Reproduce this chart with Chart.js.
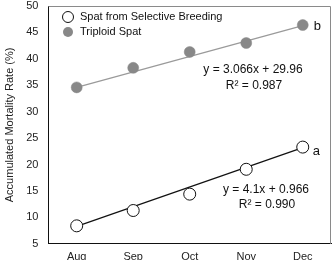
<!DOCTYPE html>
<html><head><meta charset="utf-8">
<script src="https://cdn.jsdelivr.net/npm/chart.js@4/dist/chart.umd.min.js"></script>
<style>html,body{margin:0;padding:0;background:#fff;overflow:hidden;}#wrap{width:335px;height:271px;}</style>
</head><body><div id="wrap"><canvas id="c" width="335" height="271"></canvas></div>
<script>
const categories = ["Aug","Sep","Oct","Nov","Dec"];
const selectiveValues = [8.4, 11.3, 14.4, 19.1, 23.3];
const triploidValues = [34.6, 38.3, 41.3, 43.0, 46.4];
const selectiveTrend = [8.3, null, null, null, 23.2];
const triploidTrend = [34.6, null, null, null, 46.3];
const seriesNames = ["Spat from Selective Breeding","Triploid Spat"];
const eqSelective = ["y = 4.1x + 0.966","R\u00B2 = 0.990"];
const eqTriploid = ["y = 3.066x + 29.96","R\u00B2 = 0.987"];
const yTitle = "Accumulated Mortality Rate (%)";

const FONT = "'Liberation Sans', Arial, sans-serif";

const overlay = {
  id:'overlay',
  afterDraw(chart){
    const {ctx, chartArea:a, scales:{x,y}} = chart;
    ctx.save();
    ctx.strokeStyle = '#8a8a8a'; ctx.lineWidth = 1;
    ctx.beginPath();
    ctx.moveTo(a.left, a.top+0.5); ctx.lineTo(a.right-0.5, a.top+0.5); ctx.lineTo(a.right-0.5, a.bottom);
    ctx.stroke();
    ctx.font = "11px " + FONT; ctx.textBaseline = 'middle'; ctx.textAlign='left';
    ctx.fillStyle = '#fff'; ctx.strokeStyle = '#111'; ctx.lineWidth = 1;
    ctx.beginPath(); ctx.arc(68, 17, 5.5, 0, Math.PI*2); ctx.fill(); ctx.stroke();
    ctx.fillStyle = '#888';
    ctx.beginPath(); ctx.arc(68, 32, 5, 0, Math.PI*2); ctx.fill();
    ctx.fillStyle = '#111';
    ctx.fillText(seriesNames[0], 80, 17);
    ctx.fillText(seriesNames[1], 80, 32);
    ctx.textAlign = 'center';
    ctx.font = "12px " + FONT;
    ctx.fillText(eqTriploid[0], 253, 70);
    ctx.fillText(eqTriploid[1], 254, 86);
    ctx.fillText(eqSelective[0], 266, 190);
    ctx.fillText(eqSelective[1], 267, 205);
    ctx.textAlign = 'left';
    ctx.font = "13px " + FONT;
    const xd = x.getPixelForValue(4);
    ctx.fillText('b', xd + 11, y.getPixelForValue(triploidValues[4]) + 1);
    ctx.fillText('a', xd + 10, y.getPixelForValue(selectiveValues[4]) + 4);
    ctx.restore();
  }
};

new Chart(document.getElementById('c'), {
  type:'line',
  data:{
    labels: categories,
    datasets:[
      {label:'tT', data: triploidTrend, borderColor:'#9a9a9a', borderWidth:1.2, pointRadius:0, spanGaps:true, order:3},
      {label:'sT', data: selectiveTrend, borderColor:'#111', borderWidth:1.2, pointRadius:0, spanGaps:true, order:3},
      {label:seriesNames[1], data: triploidValues, showLine:false, pointRadius:5.5, pointBackgroundColor:'#888', pointBorderColor:'#888', pointBorderWidth:0.5, order:1},
      {label:seriesNames[0], data: selectiveValues, showLine:false, pointRadius:6, pointBackgroundColor:'#fff', pointBorderColor:'#111', pointBorderWidth:1, order:1}
    ]
  },
  options:{
    responsive:false, animation:false, devicePixelRatio:1,
    layout:{autoPadding:false, padding:{left:3, right:4, top:0, bottom:0}},
    plugins:{legend:{display:false}, tooltip:{enabled:false}},
    scales:{
      x:{offset:true, grid:{display:false, drawTicks:false}, border:{color:'#111', width:1},
         ticks:{color:'#222', font:{family:FONT, size:11}, padding:7}},
      y:{min:5, max:50, grid:{display:false, drawTicks:false}, border:{color:'#111', width:1},
         afterFit(s){ s.paddingTop = 6; s.paddingBottom = 6; },
         ticks:{stepSize:5, color:'#222', font:{family:FONT, size:11}, padding:10},
         title:{display:true, text:yTitle, color:'#222', font:{family:FONT, size:11}, padding:{top:0,bottom:0}}}
    }
  },
  plugins:[overlay]
});
</script></body></html>
